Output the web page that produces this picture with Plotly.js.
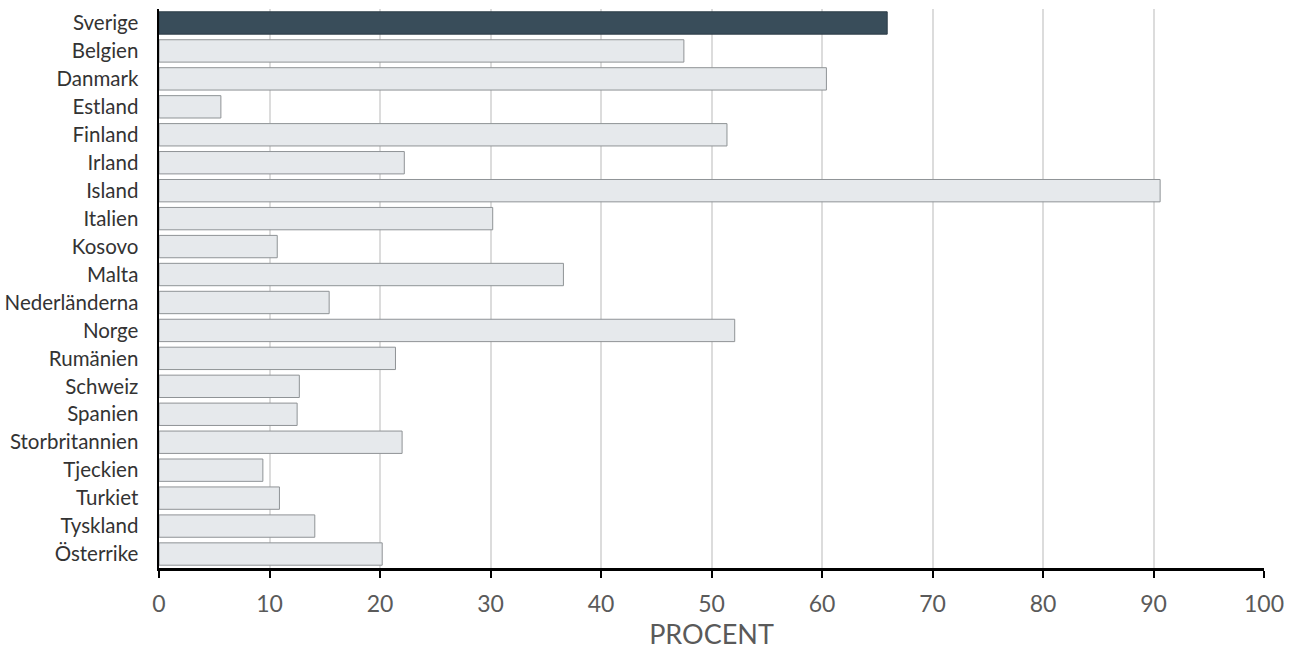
<!DOCTYPE html>
<html>
<head>
<meta charset="utf-8">
<script src="https://cdn.plot.ly/plotly-3.0.1.min.js"></script>
<style>html,body{margin:0;padding:0;background:#fff;}#chart{width:1296px;height:661px;}</style>
</head>
<body>
<div id="chart"></div>
<script>
const countries = ["Sverige","Belgien","Danmark","Estland","Finland","Irland","Island","Italien","Kosovo","Malta","Nederländerna","Norge","Rumänien","Schweiz","Spanien","Storbritannien","Tjeckien","Turkiet","Tyskland","Österrike"];
const values = [65.9,47.5,60.4,5.6,51.4,22.2,90.6,30.2,10.7,36.6,15.4,52.1,21.4,12.7,12.5,22.0,9.4,10.9,14.1,20.2];
const highlight = "Sverige";
const tickVals = [0,10,20,30,40,50,60,70,80,90,100];

const colors = countries.map(c => c === highlight ? "#394d5a" : "#e6e9ec");
const lineColors = countries.map(c => c === highlight ? "#2c3c47" : "#8f9396");

const trace = {
  type: "bar",
  orientation: "h",
  y: countries,
  x: values,
  marker: {color: colors, line: {color: lineColors, width: 1}},
  hoverinfo: "x+y"
};

const layout = {
  width: 1296, height: 661,
  margin: {l: 159, r: 32, t: 9, b: 93},
  paper_bgcolor: "#fff", plot_bgcolor: "#fff",
  bargap: 0.2,
  showlegend: false,
  font: {family: "Lato, 'Open Sans', sans-serif"},
  xaxis: {
    range: [0, 100],
    tickvals: tickVals,
    ticktext: tickVals.map(String),
    showgrid: true, gridcolor: "#dcdcdc", gridwidth: 2,
    zeroline: false,
    showline: true, linecolor: "#000", linewidth: 2.5,
    ticks: "outside", ticklen: 7, tickwidth: 2, tickcolor: "#000",
    ticklabelstandoff: 7,
    tickfont: {size: 23, color: "#5a5a5a"},
    title: {text: "PROCENT", font: {size: 27, color: "#5a5a5a"}, standoff: 9}
  },
  yaxis: {
    categoryorder: "array", categoryarray: countries,
    autorange: "reversed",
    showgrid: false, zeroline: false,
    showline: true, linecolor: "#000", linewidth: 2.5,
    ticks: "", ticklabelstandoff: 14,
    tickfont: {size: 20.5, color: "#333"}
  }
};

Plotly.newPlot("chart", [trace], layout, {displayModeBar: false, staticPlot: true});
</script>
</body>
</html>
